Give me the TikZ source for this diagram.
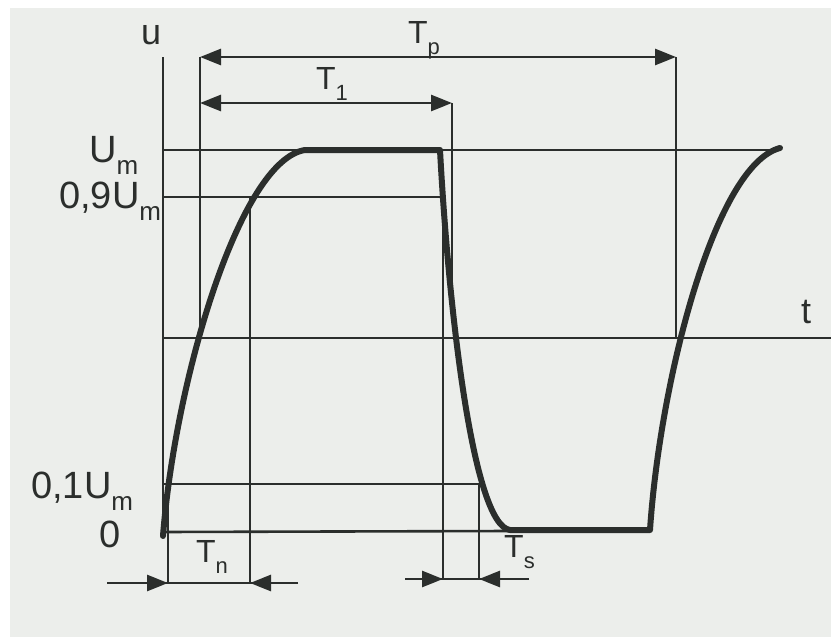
\documentclass[tikz,border=0pt]{standalone}
\usepackage{fontspec}
\setmainfont{Liberation Sans}
\usetikzlibrary{arrows.meta}
\definecolor{ink}{HTML}{2B2E2C}
\definecolor{paper}{HTML}{ECEEEB}
\newcommand{\lsub}[1]{\raisebox{-11pt}{\fontsize{22}{22}\selectfont #1}}
\newcommand{\msub}[1]{\raisebox{-12pt}{\fontsize{26}{26}\selectfont #1}}
\begin{document}
\begin{tikzpicture}[x=1pt,y=-1pt,
  gridline/.style={draw=ink, line width=2.6pt},
  wave/.style={draw=ink, line width=6pt, line join=round, line cap=round},
  tip/.style={-{Triangle[length=21pt,width=16pt]}},
  bothtip/.style={{Triangle[length=21pt,width=16pt]}-{Triangle[length=21pt,width=16pt]}},
  lab/.style={text=ink, inner sep=0pt, anchor=base west, font=\fontsize{36}{36}\selectfont},
  ulab/.style={lab, font=\fontsize{38}{38}\selectfont},
  tlab/.style={lab, font=\fontsize{32}{32}\selectfont}]
\useasboundingbox (0,0) rectangle (831,637);
\fill[white] (0,0) rectangle (831,637);
\fill[paper] (10,8) rectangle (831,637);
% named coordinates
\coordinate (axtop) at (163,57);
\coordinate (axbot) at (163,537);
\coordinate (tl) at (163,338);
\coordinate (tr) at (831,338);
% axes
\draw[gridline] (axtop) -- (axbot);
\draw[gridline] (tl) -- (tr);
% level lines
\draw[gridline] (163,150) -- (775,150);
\draw[gridline] (163,197) -- (442,197);
\draw[gridline] (163,484) -- (480,484);
\draw[gridline] (163,532) -- (510,531);
% period / T1 verticals
\coordinate (pL) at (200,57);
\coordinate (pR) at (676,57);
\coordinate (oL) at (200,103);
\coordinate (oR) at (452,103);
\draw[gridline] (pL) -- (200,338);
\draw[gridline] (pR) -- (676,338);
\draw[gridline] (oR) -- (452,280);
\draw[gridline, bothtip] (pL) -- (pR);
\draw[gridline, bothtip] (oL) -- (oR);
% rise-time verticals and arrows
\coordinate (nL) at (168,583);
\coordinate (nR) at (250,583);
\draw[gridline] (168,484) -- (nL);
\draw[gridline] (250,197) -- (nR);
\coordinate (nA) at (107,583);
\coordinate (nB) at (298,583);
\draw[gridline] (nA) -- (nB);
\draw[gridline, tip] (nA) -- (nL);
\draw[gridline, tip] (nB) -- (nR);
% fall-time verticals and arrows
\coordinate (sL) at (443,579);
\coordinate (sR) at (479,579);
\draw[gridline] (443,197) -- (sL);
\draw[gridline] (479,484) -- (sR);
\coordinate (sA) at (405,579);
\coordinate (sB) at (529,579);
\draw[gridline] (sA) -- (sB);
\draw[gridline, tip] (sA) -- (sL);
\draw[gridline, tip] (sB) -- (sR);
% waveform
\draw[wave] (163,536) .. controls (175,380) and (240,160) .. (305,150) -- (440,150)
  .. controls (448,300) and (472,525) .. (510,530) -- (650,530)
  .. controls (660,380) and (715,165) .. (780,148);
% labels
\node[lab] (lu) at (141,45) {u};
\node[lab] (lt) at (801,323) {t};
\node[tlab] (ltp) at (408,43) {T\lsub{p}};
\node[tlab] (lt1) at (316,89) {T\lsub{1}};
\node[ulab] (lum) at (89,162) {U\msub{m}};
\node[ulab] (l09) at (59,208) {0,9U\msub{m}};
\node[ulab] (l01) at (31,498) {0,1U\msub{m}};
\node[ulab] (l0) at (99,547) {0};
\node[tlab] (ltn) at (196,562) {T\lsub{n}};
\node[tlab] (lts) at (504,557) {T\lsub{s}};
\end{tikzpicture}
\end{document}
